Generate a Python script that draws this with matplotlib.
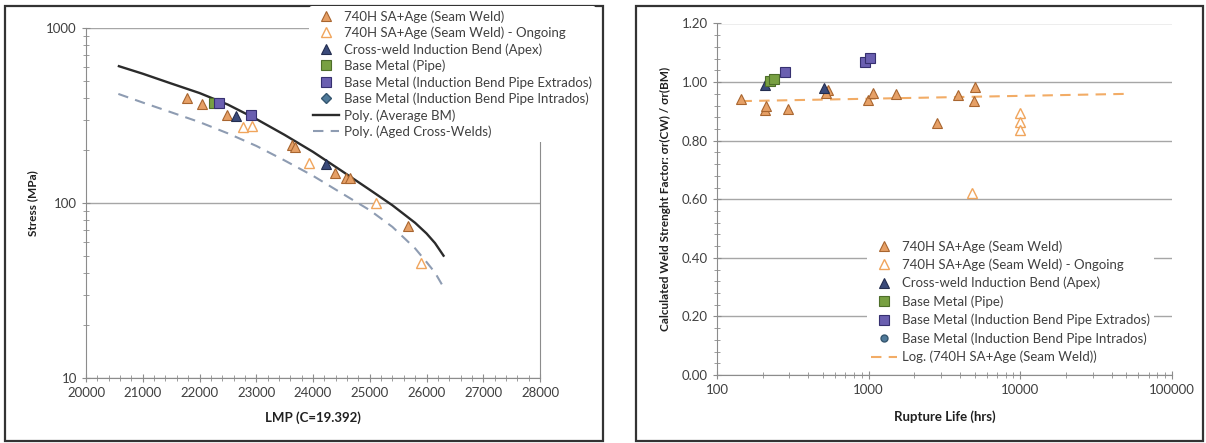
import matplotlib
matplotlib.use("Agg")
import matplotlib.pyplot as plt
from matplotlib.patches import Rectangle
from matplotlib.ticker import FixedLocator, MultipleLocator, LogLocator, FuncFormatter, NullFormatter

plt.rcParams['font.family'] = ['Lato', 'DejaVu Sans']

# ---------------- Left chart data (Stress vs LMP) ----------------
seam_lmp = [21775, 22050, 22490, 23634, 23690, 24380, 24582, 24650, 25680]
seam_stress = [400, 370, 318, 214, 208, 148, 139, 139, 74]
ongo_lmp = [22770, 22930, 23935, 25110, 25900]
ongo_stress = [273, 277, 169, 100, 45.5]
cross_lmp = [22640, 24230]
cross_stress = [315, 168]
pipe_lmp = [22250]
pipe_stress = [375]
extr_lmp = [22350, 22900]
extr_stress = [375, 320]
intr_lmp = []
intr_stress = []
avgbm_lmp = [20580, 21000, 21500, 22000, 22500, 23000, 23500, 24000, 24500, 25000, 25400, 25800, 26000, 26150, 26300]
avgbm_stress = [605, 548, 482, 425, 365, 302, 245, 196, 153, 119, 97, 77, 67, 59, 50]
aged_lmp = [20570, 21000, 21500, 22000, 22500, 23000, 23500, 24000, 24500, 25000, 25400, 25800, 26000, 26150, 26300]
aged_stress = [420, 375, 330, 290, 250, 212, 175, 143, 114, 91, 73, 55, 46, 40, 33]

# ---------------- Right chart data (WSF vs rupture life) ----------------
r_seam_life = [145, 206, 212, 294, 539, 521, 989, 1067, 1507, 2818, 3880, 5000, 4920]
r_seam_wsf = [0.942, 0.905, 0.917, 0.908, 0.974, 0.962, 0.940, 0.962, 0.960, 0.860, 0.957, 0.983, 0.934]
r_ongo_life = [4830, 9890, 10000, 10000]
r_ongo_wsf = [0.623, 0.894, 0.865, 0.837]
r_cross_life = [206, 505]
r_cross_wsf = [0.991, 0.979]
r_pipe_life = [222, 237]
r_pipe_wsf = [1.002, 1.010]
r_extr_life = [279, 942, 1016]
r_extr_wsf = [1.034, 1.070, 1.082]
r_intr_life = []
r_intr_wsf = []
r_trend_life = [145, 53000]
r_trend_wsf = [0.935, 0.960]

labels = ["740H SA+Age (Seam Weld)", "740H SA+Age (Seam Weld) - Ongoing",
          "Cross-weld Induction Bend (Apex)", "Base Metal (Pipe)",
          "Base Metal (Induction Bend Pipe Extrados)", "Base Metal (Induction Bend Pipe Intrados)"]

W, H = 1206, 443
fig = plt.figure(figsize=(W / 100, H / 100), dpi=100)

def fx(px):
    return px / W

def fy(py):
    return 1 - py / H

GRID = '#a6a6a6'
SPINE = '#8c8c8c'
TXT = '#404040'
FS = 9.5

seam_kw = dict(marker='^', ms=7, mfc='#E6A066', mec='#A8652F', mew=0.8, ls='none')
ongo_kw = dict(marker='^', ms=7, mfc='white', mec='#F0A55C', mew=1.0, ls='none')
cross_kw = dict(marker='^', ms=7, mfc='#3A4A7A', mec='#232d4f', mew=0.8, ls='none')
pipe_kw = dict(marker='s', ms=6.5, mfc='#78A042', mec='#4E6E2A', mew=0.8, ls='none')
extr_kw = dict(marker='s', ms=6.5, mfc='#6A5FB0', mec='#363070', mew=0.8, ls='none')

# ---------------- Left axes ----------------
axL = fig.add_axes([fx(86), fy(378), fx(540) - fx(86), fy(28) - fy(378)])
axL.set_yscale('log')
axL.set_xlim(20000, 28000)
axL.set_ylim(10, 1000)
axL.yaxis.grid(True, which='major', color=GRID, lw=1.0)
axL.set_axisbelow(True)
for s in ['left', 'bottom', 'right']:
    axL.spines[s].set_color(SPINE)
axL.spines['top'].set_visible(False)
axL.xaxis.set_major_locator(MultipleLocator(1000))
axL.xaxis.set_minor_locator(MultipleLocator(200))
axL.yaxis.set_major_locator(FixedLocator([10, 100, 1000]))
axL.yaxis.set_minor_locator(LogLocator(base=10, subs=range(2, 10)))
axL.yaxis.set_major_formatter(FuncFormatter(lambda v, p: f"{v:.0f}"))
axL.yaxis.set_minor_formatter(NullFormatter())
axL.tick_params(which='both', direction='inout', colors=SPINE, labelcolor=TXT, labelsize=FS)
axL.tick_params(which='major', length=6)
axL.tick_params(which='minor', length=4)
axL.tick_params(axis='y', which='both', right=False)

hL = []
hL += axL.plot(seam_lmp, seam_stress, label=labels[0], **seam_kw)
hL += axL.plot(ongo_lmp, ongo_stress, label=labels[1], **ongo_kw)
hL += axL.plot(cross_lmp, cross_stress, label=labels[2], **cross_kw)
hL += axL.plot(pipe_lmp, pipe_stress, label=labels[3], **pipe_kw)
hL += axL.plot(extr_lmp, extr_stress, label=labels[4], **extr_kw)
hL += axL.plot(intr_lmp, intr_stress, label=labels[5], marker='D', ms=5, mfc='#4F7A9A', mec='#35566f', ls='none')
hL += axL.plot(avgbm_lmp, avgbm_stress, color='#2b2b2b', lw=1.7, label="Poly. (Average BM)", zorder=4)
hL += axL.plot(aged_lmp, aged_stress, color='#8E9CB2', lw=1.5, ls=(0, (5, 3.5)), label="Poly. (Aged Cross-Welds)", zorder=4)
for h in hL[:6]:
    h.set_zorder(5)

axL.set_xlabel("LMP (C=19.392)", fontsize=9.5, fontweight='bold', color='#202020', labelpad=9)
axL.set_ylabel("Stress (MPa)", fontsize=8.5, fontweight='bold', color='#202020', labelpad=6)

fig.legend(handles=hL, loc='upper left', bbox_to_anchor=(fx(309), fy(6)),
           frameon=True, facecolor='white', edgecolor='none', framealpha=1.0,
           fontsize=FS, labelspacing=0.3, handlelength=2.0, handletextpad=0.35,
           borderpad=0.3, borderaxespad=0.0, labelcolor=TXT)

# ---------------- Right axes ----------------
axR = fig.add_axes([fx(717), fy(375), fx(1172) - fx(717), fy(23.5) - fy(375)])
axR.set_xscale('log')
axR.set_xlim(100, 100000)
axR.set_ylim(0, 1.2)
axR.yaxis.grid(True, which='major', color=GRID, lw=1.0)
axR.set_axisbelow(True)
for s in ['left', 'bottom']:
    axR.spines[s].set_color(SPINE)
axR.spines['top'].set_visible(False)
axR.spines['right'].set_visible(False)
axR.xaxis.set_major_locator(FixedLocator([100, 1000, 10000, 100000]))
axR.xaxis.set_minor_locator(LogLocator(base=10, subs=range(2, 10)))
axR.xaxis.set_major_formatter(FuncFormatter(lambda v, p: f"{v:.0f}"))
axR.xaxis.set_minor_formatter(NullFormatter())
axR.yaxis.set_major_locator(MultipleLocator(0.2))
axR.yaxis.set_minor_locator(MultipleLocator(0.04))
axR.yaxis.set_major_formatter(FuncFormatter(lambda v, p: f"{v:.2f}"))
axR.tick_params(which='both', direction='inout', colors=SPINE, labelcolor=TXT, labelsize=FS)
axR.tick_params(which='major', length=6)
axR.tick_params(which='minor', length=4)

hR = []
hR += axR.plot(r_seam_life, r_seam_wsf, label=labels[0], **seam_kw)
hR += axR.plot(r_ongo_life, r_ongo_wsf, label=labels[1], **ongo_kw)
hR += axR.plot(r_cross_life, r_cross_wsf, label=labels[2], **cross_kw)
hR += axR.plot(r_pipe_life, r_pipe_wsf, label=labels[3], **pipe_kw)
hR += axR.plot(r_extr_life, r_extr_wsf, label=labels[4], **extr_kw)
hR += axR.plot(r_intr_life, r_intr_wsf, label=labels[5], marker='o', ms=5, mfc='#4F7A9A', mec='#35566f', ls='none')
hR += axR.plot(r_trend_life, r_trend_wsf, color='#F2AC66', lw=1.5, ls=(0, (5, 3.5)),
               label="Log. (740H SA+Age (Seam Weld))", zorder=2)
for h in hR[:6]:
    h.set_zorder(5)

axR.set_xlabel("Rupture Life (hrs)", fontsize=9.5, fontweight='bold', color='#202020', labelpad=10)
axR.set_ylabel("Calculated Weld Strenght Factor: σr(CW) / σr(BM)", fontsize=8.5, fontweight='bold',
               color='#202020', labelpad=8)

fig.legend(handles=hR, loc='upper left', bbox_to_anchor=(fx(867), fy(236)),
           frameon=True, facecolor='white', edgecolor='none', framealpha=1.0,
           fontsize=FS, labelspacing=0.45, handlelength=2.0, handletextpad=0.35,
           borderpad=0.3, borderaxespad=0.0, labelcolor=TXT)

# ---------------- Panel frames ----------------
fig.add_artist(Rectangle((fx(5), fy(441)), fx(603) - fx(5), fy(6) - fy(441), fill=False,
                         edgecolor='#333333', lw=1.6, transform=fig.transFigure))
fig.add_artist(Rectangle((fx(636), fy(441)), fx(1203) - fx(636), fy(6) - fy(441), fill=False,
                         edgecolor='#333333', lw=1.6, transform=fig.transFigure))

fig.savefig("out.png", dpi=100)
